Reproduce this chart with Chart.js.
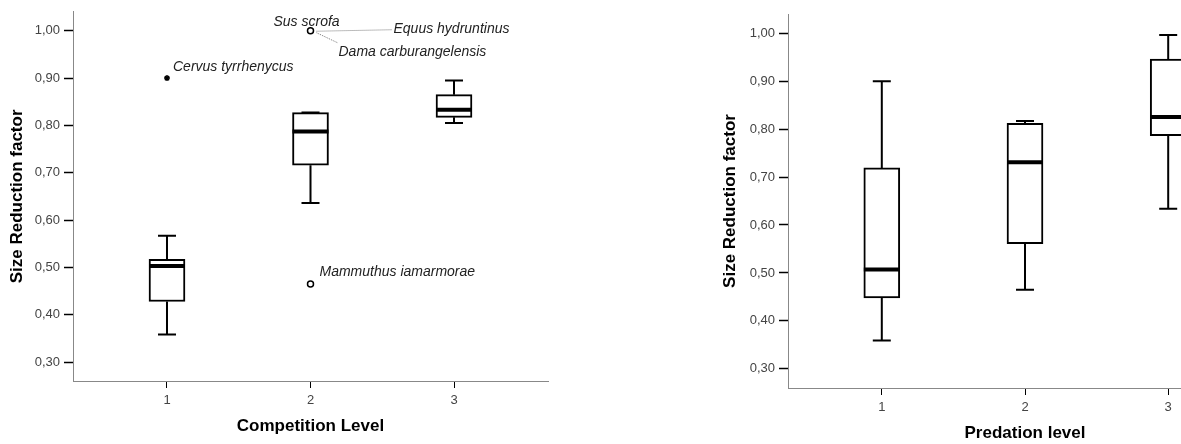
<!DOCTYPE html>
<html>
<head>
<meta charset="utf-8">
<script src="https://cdn.jsdelivr.net/npm/chart.js@4.4.1/dist/chart.umd.min.js"></script>
<style>
    html, body { margin: 0; padding: 0; background: #fff; overflow: hidden; width: 1181px; height: 444px; }
    .panel { position: absolute; top: 0; }
    #left { left: 0; }
    #right { left: 714px; }
</style>
</head>
<body>
<div class="panel" id="left"><canvas id="chartCompetition" width="560" height="444"></canvas></div>
<div class="panel" id="right"><canvas id="chartPredation" width="560" height="444"></canvas></div>
<script>
// levels on the x axis and y ticks
const levels = [1, 2, 3];
const yTicks = [0.30, 0.40, 0.50, 0.60, 0.70, 0.80, 0.90, 1.00];

// competition level boxes
const compLow = [0.358, 0.636, 0.805];
const compQ1 = [0.428, 0.716, 0.817];
const compMedian = [0.503, 0.787, 0.833];
const compQ3 = [0.517, 0.827, 0.865];
const compHigh = [0.567, 0.827, 0.895];

// competition outliers (circles) and extremes (stars)
const compOutlierLevel = [2, 2];
const compOutlierValue = [1.00, 0.465];
const compOutlierNames = [["Sus scrofa", "Equus hydruntinus", "Dama carburangelensis"], ["Mammuthus iamarmorae"]];
const compExtremeLevel = [1];
const compExtremeValue = [0.90];
const compExtremeNames = [["Cervus tyrrhenycus"]];

// predation level boxes
const predLow = [0.359, 0.465, 0.634];
const predQ1 = [0.448, 0.561, 0.786];
const predMedian = [0.507, 0.731, 0.825];
const predQ3 = [0.719, 0.812, 0.946];
const predHigh = [0.900, 0.817, 0.996];

const fontFamily = '"Liberation Sans", Arial, sans-serif';

// where each species name sits, relative to its point (px)
const labelLayout = {
    'Sus scrofa': { dx: -37, dy: -9 },
    'Equus hydruntinus': { dx: 83, dy: -2, leader: [6, 0.5, 82, -1] },
    'Dama carburangelensis': { dx: 28, dy: 21, leader: [6, 2, 27, 12] },
    'Mammuthus iamarmorae': { dx: 9, dy: -12 },
    'Cervus tyrrhenycus': { dx: 6, dy: -11 }
};

function makeBoxPlugin(stats, named) {
    return {
        id: 'boxExtras',
        beforeDatasetsDraw(chart) {
            const ctx = chart.ctx;
            const xs = chart.scales.x, ys = chart.scales.y;
            ctx.save();
            ctx.strokeStyle = '#000';
            ctx.lineWidth = 2;
            levels.forEach((lvl, i) => {
                const px = xs.getPixelForValue(lvl);
                const yLow = ys.getPixelForValue(stats.low[i]);
                const yHigh = ys.getPixelForValue(stats.high[i]);
                ctx.beginPath();
                ctx.moveTo(px, yLow);
                ctx.lineTo(px, ys.getPixelForValue(stats.q1[i]));
                ctx.moveTo(px, ys.getPixelForValue(stats.q3[i]));
                ctx.lineTo(px, yHigh);
                ctx.moveTo(px - 9, yLow);
                ctx.lineTo(px + 9, yLow);
                ctx.moveTo(px - 9, yHigh);
                ctx.lineTo(px + 9, yHigh);
                ctx.stroke();
            });
            ctx.restore();
        },
        afterDatasetsDraw(chart) {
            const ctx = chart.ctx;
            const xs = chart.scales.x, ys = chart.scales.y;
            ctx.save();
            ctx.strokeStyle = '#000';
            ctx.lineWidth = 4;
            levels.forEach((lvl, i) => {
                const px = xs.getPixelForValue(lvl);
                const py = ys.getPixelForValue(stats.median[i]);
                ctx.beginPath();
                ctx.moveTo(px - 18, py);
                ctx.lineTo(px + 18, py);
                ctx.stroke();
            });

            // species names next to the outliers
            ctx.font = 'italic 14px ' + fontFamily;
            ctx.fillStyle = '#222';
            ctx.textAlign = 'left';
            ctx.textBaseline = 'middle';
            named.forEach(n => {
                const px = xs.getPixelForValue(n.x);
                const py = ys.getPixelForValue(n.y);
                n.names.forEach(name => {
                    const l = labelLayout[name];
                    ctx.fillText(name, px + l.dx, py + l.dy);
                    if (l.leader) {
                        ctx.save();
                        ctx.strokeStyle = '#777';
                        ctx.lineWidth = 1;
                        ctx.setLineDash([1, 1]);
                        ctx.beginPath();
                        ctx.moveTo(px + l.leader[0], py + l.leader[1]);
                        ctx.lineTo(px + l.leader[2], py + l.leader[3]);
                        ctx.stroke();
                        ctx.restore();
                    }
                });
            });
            ctx.restore();
        }
    };
}

function drawBoxChart(canvasId, p) {
    const boxData = levels.map((lvl, i) => ({ x: lvl, y: [p.q1[i], p.q3[i]] }));
    const datasets = [{
        type: 'bar',
        data: boxData,
        backgroundColor: '#fff',
        borderColor: '#000',
        borderWidth: 2,
        borderSkipped: false,
        barThickness: 36
    }];
    const named = [];
    if (p.outLevel) {
        datasets.push({
            type: 'scatter',
            data: p.outLevel.map((l, i) => ({ x: l, y: p.outValue[i] })),
            pointStyle: 'circle',
            pointRadius: 3,
            borderColor: '#000',
            borderWidth: 1.5,
            backgroundColor: '#fff'
        });
        datasets.push({
            type: 'scatter',
            data: p.extLevel.map((l, i) => ({ x: l, y: p.extValue[i] })),
            pointStyle: 'star',
            pointRadius: 3,
            borderColor: '#000',
            borderWidth: 1.5
        });
        p.outLevel.forEach((l, i) => named.push({ x: l, y: p.outValue[i], names: p.outNames[i] }));
        p.extLevel.forEach((l, i) => named.push({ x: l, y: p.extValue[i], names: p.extNames[i] }));
    }

    const ctx = document.getElementById(canvasId).getContext('2d');
    return new Chart(ctx, {
        type: 'bar',
        data: { datasets: datasets },
        options: {
            responsive: false,
            animation: false,
            devicePixelRatio: 1,
            layout: { padding: { top: p.padTop, right: 12, left: 0, bottom: 0 } },
            plugins: {
                legend: { display: false },
                tooltip: { enabled: false }
            },
            scales: {
                x: {
                    type: 'linear',
                    min: 0.345,
                    max: 3.655,
                    offset: false,
                    grid: { display: true, offset: false, drawOnChartArea: false, drawTicks: true, tickLength: 7, tickColor: '#000', tickWidth: 1 },
                    border: { display: true, color: '#888', width: 1, dash: [1, 1] },
                    afterBuildTicks: scale => { scale.ticks = levels.map(v => ({ value: v })); },
                    afterFit: scale => { scale.height = p.xHeight; },
                    ticks: {
                        color: '#444',
                        padding: 5,
                        font: { family: fontFamily, size: 13 },
                        callback: v => String(v)
                    },
                    title: {
                        display: true,
                        text: p.xTitle,
                        color: '#000',
                        font: { family: fontFamily, size: 17, weight: 'bold' },
                        padding: { top: 0, bottom: p.xTitlePad }
                    }
                },
                y: {
                    min: 0.26,
                    max: 1.04,
                    grid: { display: true, drawOnChartArea: false, drawTicks: true, tickLength: 9, tickColor: '#000', tickWidth: 1.5 },
                    border: { display: true, color: '#888', width: 1, dash: [1, 1] },
                    afterBuildTicks: scale => { scale.ticks = yTicks.map(v => ({ value: v })); },
                    afterFit: scale => { scale.width = p.yWidth; },
                    ticks: {
                        color: '#444',
                        padding: 4,
                        font: { family: fontFamily, size: 13 },
                        callback: v => v.toFixed(2).replace('.', ',')
                    },
                    title: {
                        display: true,
                        text: 'Size Reduction factor',
                        color: '#000',
                        font: { family: fontFamily, size: 17, weight: 'bold' },
                        padding: { top: p.yTitlePad, bottom: 0 }
                    }
                }
            }
        },
        plugins: [makeBoxPlugin(p, named)]
    });
}

drawBoxChart('chartCompetition', {
    low: compLow, q1: compQ1, median: compMedian, q3: compQ3, high: compHigh,
    outLevel: compOutlierLevel, outValue: compOutlierValue, outNames: compOutlierNames,
    extLevel: compExtremeLevel, extValue: compExtremeValue, extNames: compExtremeNames,
    xTitle: 'Competition Level',
    padTop: 10, xHeight: 63, yWidth: 73, xTitlePad: 7, yTitlePad: 7
});

drawBoxChart('chartPredation', {
    low: predLow, q1: predQ1, median: predMedian, q3: predQ3, high: predHigh,
    xTitle: 'Predation level',
    padTop: 14, xHeight: 56, yWidth: 74, xTitlePad: 0, yTitlePad: 6
});
</script>
</body>
</html>
